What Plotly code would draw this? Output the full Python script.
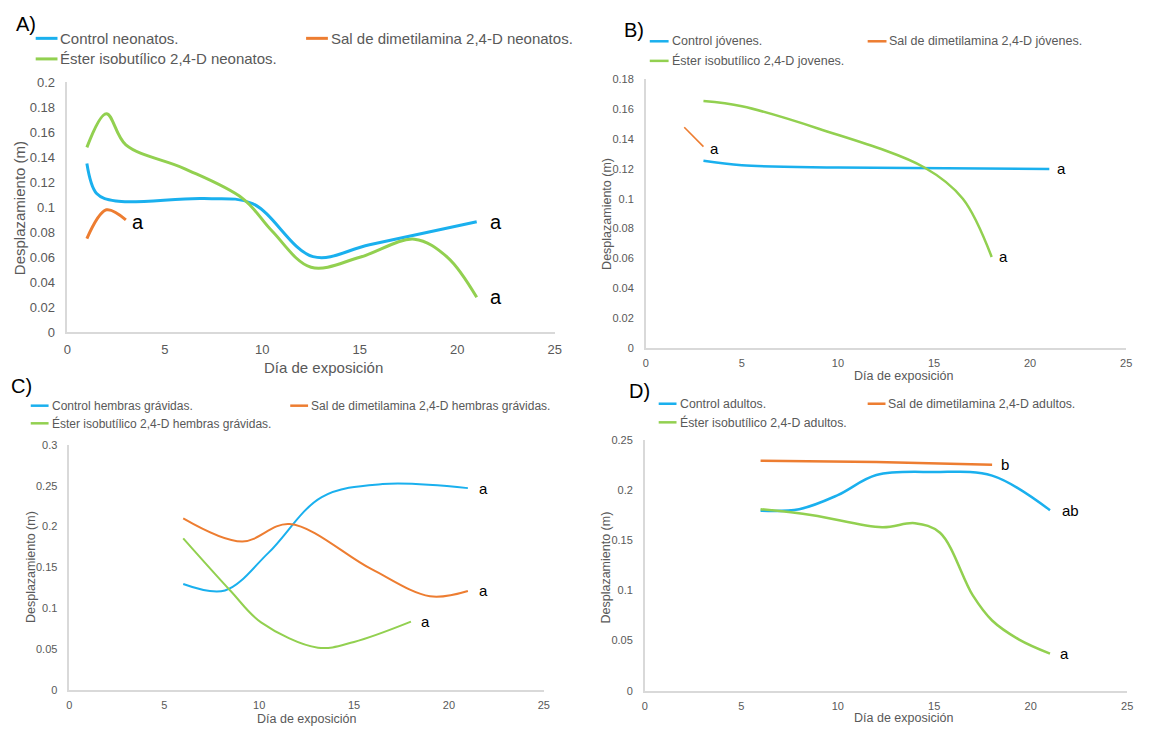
import plotly.graph_objects as go

# ---------------- DATA ----------------
# Panel A (neonatos)
days_A_control = [1, 1.5, 2.5, 7, 9.5, 12.6, 15.5, 21]
disp_A_control = [0.135, 0.111, 0.105, 0.107, 0.103, 0.0605, 0.070, 0.0885]
days_A_sal = [1, 2, 3]
disp_A_sal = [0.075, 0.098, 0.090]
days_A_ester = [1, 2, 3, 6, 9, 10.5, 12.5, 15, 17.8, 19.5, 21]
disp_A_ester = [0.148, 0.175, 0.150, 0.131, 0.107, 0.081, 0.052, 0.060, 0.0745, 0.060, 0.028]

# Panel B (jóvenes)
days_B_control = [3, 5, 10, 21]
disp_B_control = [0.1255, 0.1225, 0.121, 0.120]
days_B_sal = [2, 3]
disp_B_sal = [0.148, 0.135]
days_B_ester = [3, 5, 9, 14.5, 16.5, 18]
disp_B_ester = [0.1655, 0.162, 0.147, 0.121, 0.100, 0.061]

# Panel C (hembras grávidas)
days_C_control = [6, 8.2, 10.5, 13.3, 16.5, 21]
disp_C_control = [0.1296, 0.1217, 0.168, 0.236, 0.252, 0.247]
days_C_sal = [6, 9.1, 11.6, 15.9, 19, 21]
disp_C_sal = [0.210, 0.1815, 0.203, 0.148, 0.1145, 0.121]
days_C_ester = [6, 8.5, 10.1, 13.1, 15, 18]
disp_C_ester = [0.1855, 0.121, 0.0826, 0.0515, 0.0586, 0.0834]

# Panel D (adultos)
days_D_control = [6, 8, 10, 12, 15, 18, 21]
disp_D_control = [0.1795, 0.181, 0.195, 0.215, 0.218, 0.2145, 0.180]
days_D_sal = [6, 12, 18]
disp_D_sal = [0.2293, 0.228, 0.2254]
days_D_ester = [6, 8.7, 12.3, 14, 15.3, 17, 18, 19.4, 21]
disp_D_ester = [0.181, 0.175, 0.163, 0.167, 0.1575, 0.095, 0.070, 0.051, 0.037]

# Significance letters (per series: control, sal, ester)
letters_A = ["a", "a", "a"]
letters_B = ["a", "a", "a"]
letters_C = ["a", "a", "a"]
letters_D = ["ab", "b", "a"]

# Legend names
names_A = ["Control neonatos.", "Sal de dimetilamina 2,4-D neonatos.", "Éster isobutílico 2,4-D neonatos."]
names_B = ["Control jóvenes.", "Sal de dimetilamina 2,4-D jóvenes.", "Éster isobutílico 2,4-D jovenes."]
names_C = ["Control hembras grávidas.", "Sal de dimetilamina 2,4-D hembras grávidas.", "Éster isobutílico 2,4-D hembras grávidas."]
names_D = ["Control adultos.", "Sal de dimetilamina 2,4-D adultos.", "Éster isobutílico 2,4-D adultos."]

# Tick values / labels
x_ticks = [0, 5, 10, 15, 20, 25]
x_ticklabels = ["0", "5", "10", "15", "20", "25"]
y_ticks_A = [0, 0.02, 0.04, 0.06, 0.08, 0.1, 0.12, 0.14, 0.16, 0.18, 0.2]
y_ticklabels_A = ["0", "0.02", "0.04", "0.06", "0.08", "0.1", "0.12", "0.14", "0.16", "0.18", "0.2"]
y_ticks_B = [0, 0.02, 0.04, 0.06, 0.08, 0.1, 0.12, 0.14, 0.16, 0.18]
y_ticklabels_B = ["0", "0.02", "0.04", "0.06", "0.08", "0.1", "0.12", "0.14", "0.16", "0.18"]
y_ticks_C = [0, 0.05, 0.1, 0.15, 0.2, 0.25, 0.3]
y_ticklabels_C = ["0", "0.05", "0.1", "0.15", "0.2", "0.25", "0.3"]
y_ticks_D = [0, 0.05, 0.1, 0.15, 0.2, 0.25]
y_ticklabels_D = ["0", "0.05", "0.1", "0.15", "0.2", "0.25"]

panel_labels = ["A)", "B)", "C)", "D)"]
x_title = "Día de exposición"
y_title = "Desplazamiento (m)"

# ---------------- STYLE / LAYOUT ----------------
W, H = 1151, 734
FONT = "Liberation Sans, Arial, sans-serif"
BLUE, ORANGE, GREEN = "#1AB0EE", "#ED7D31", "#92D050"
COLORS = [BLUE, ORANGE, GREEN]
GRAY_TXT = "#595959"
AXIS_LINE = "#D9D9D9"


def fx(p):
    return p / W


def fy(p):
    return 1 - p / H


panels = [
    dict(key="", series=[(days_A_control, disp_A_control), (days_A_sal, disp_A_sal), (days_A_ester, disp_A_ester)],
         names=names_A, letters=letters_A, yt=y_ticks_A, ytl=y_ticklabels_A,
         xdom=(64, 556), ydom=(332, 77), lw=[3, 3, 3], tickfs=13, titlefs=15, legfs=15, letfs=20,
         letshift=[11, 4, 11], letyshift=[0, -2, 0],
         leg=dict(x1=[32, 305, 32], y=[32, 32, 53], len=22, lw=3),
         panel=(22, 17), ytitle=(15.5, 205), xtitle=(323, 368)),
    dict(key="2", series=[(days_B_control, disp_B_control), (days_B_sal, disp_B_sal), (days_B_ester, disp_B_ester)],
         names=names_B, letters=letters_B, yt=y_ticks_B, ytl=y_ticklabels_B,
         xdom=(648, 1133), ydom=(348, 74), lw=[2.5, 1.6, 2.5], tickfs=11, titlefs=12.5, legfs=12.5, letfs=15,
         letshift=[6, 5, 5], letyshift=[0, -2, 0],
         leg=dict(x1=[652, 872, 652], y=[35, 35, 55], len=19, lw=2.5),
         panel=(636, 23), ytitle=(608, 211), xtitle=(908, 377)),
    dict(key="3", series=[(days_C_control, disp_C_control), (days_C_sal, disp_C_sal), (days_C_ester, disp_C_ester)],
         names=names_C, letters=letters_C, yt=y_ticks_C, ytl=y_ticklabels_C,
         xdom=(66, 545), ydom=(697, 447), lw=[2, 2, 2], tickfs=11, titlefs=12.5, legfs=12, letfs=15,
         letshift=[9, 9, 8], letyshift=[0, 0, 0],
         leg=dict(x1=[27, 289, 27], y=[407, 407, 425], len=18, lw=2.5),
         panel=(17.5, 387), ytitle=(28, 572), xtitle=(305, 727)),
    dict(key="4", series=[(days_D_control, disp_D_control), (days_D_sal, disp_D_sal), (days_D_ester, disp_D_ester)],
         names=names_D, letters=letters_D, yt=y_ticks_D, ytl=y_ticklabels_D,
         xdom=(647, 1134), ydom=(698, 442), lw=[2.5, 2.5, 2.5], tickfs=11, titlefs=12.5, legfs=12.3, letfs=15,
         letshift=[10, 7, 8], letyshift=[0, 0, 0],
         leg=dict(x1=[661, 872, 661], y=[405, 405, 424], len=18, lw=2.5),
         panel=(642, 392), ytitle=(608, 572), xtitle=(908, 726)),
]

fig = go.Figure()
annotations = []
shapes = []
layout_axes = {}

for idx, p in enumerate(panels):
    k = p["key"]
    xa, ya = "x" + k, "y" + k
    for i, (xs, ys) in enumerate(p["series"]):
        fig.add_trace(go.Scatter(
            x=xs, y=ys, mode="lines", name=p["names"][i], showlegend=False,
            line=dict(color=COLORS[i], width=p["lw"][i], shape="spline", smoothing=1.0),
            xaxis=xa, yaxis=ya, hoverinfo="skip"))
        annotations.append(dict(
            x=xs[-1], y=ys[-1], xref=xa, yref=ya, text=p["letters"][i], showarrow=False,
            xanchor="left", yanchor="middle", xshift=p["letshift"][i], yshift=p["letyshift"][i],
            font=dict(family=FONT, size=p["letfs"], color="#000000")))
        # manual legend entry (line sample + text)
        lg = p["leg"]
        shapes.append(dict(type="line", xref="paper", yref="paper",
                           x0=fx(lg["x1"][i]), x1=fx(lg["x1"][i] + lg["len"]),
                           y0=fy(lg["y"][i]), y1=fy(lg["y"][i]),
                           line=dict(color=COLORS[i], width=lg["lw"])))
        annotations.append(dict(
            x=fx(lg["x1"][i] + lg["len"] + 1), y=fy(lg["y"][i]), xref="paper", yref="paper",
            text=p["names"][i], showarrow=False, xanchor="left", yanchor="middle",
            font=dict(family=FONT, size=p["legfs"], color=GRAY_TXT)))

    axis_common = dict(showgrid=False, zeroline=False, showline=True, linecolor=AXIS_LINE,
                       linewidth=1.5, ticks="", tickfont=dict(family=FONT, size=p["tickfs"], color=GRAY_TXT))
    layout_axes["xaxis" + k] = dict(
        axis_common, domain=[fx(p["xdom"][0]), fx(p["xdom"][1])], range=[0, 25],
        tickmode="array", tickvals=x_ticks, ticktext=x_ticklabels, anchor=ya, ticklabelstandoff=4)
    layout_axes["yaxis" + k] = dict(
        axis_common, domain=[fy(p["ydom"][0]), fy(p["ydom"][1])], range=[0, p["yt"][-1]],
        tickmode="array", tickvals=p["yt"], ticktext=p["ytl"], anchor=xa, ticklabelstandoff=8)

    annotations.append(dict(x=fx(p["panel"][0]), y=fy(p["panel"][1]), xref="paper", yref="paper",
                            text=panel_labels[idx], showarrow=False,
                            xanchor="center", yanchor="middle",
                            font=dict(family=FONT, size=20, color="#000000")))
    annotations.append(dict(x=fx(p["ytitle"][0]), y=fy(p["ytitle"][1]), xref="paper", yref="paper",
                            text=y_title, textangle=-90, showarrow=False,
                            xanchor="center", yanchor="middle",
                            font=dict(family=FONT, size=p["titlefs"], color=GRAY_TXT)))
    annotations.append(dict(x=fx(p["xtitle"][0]), y=fy(p["xtitle"][1]), xref="paper", yref="paper",
                            text=x_title, showarrow=False, xanchor="center", yanchor="middle",
                            font=dict(family=FONT, size=p["titlefs"], color=GRAY_TXT)))

fig.update_layout(
    width=W, height=H, margin=dict(l=0, r=0, t=0, b=0),
    paper_bgcolor="white", plot_bgcolor="white", showlegend=False,
    annotations=annotations, shapes=shapes, **layout_axes)

fig.write_html("out.html")
